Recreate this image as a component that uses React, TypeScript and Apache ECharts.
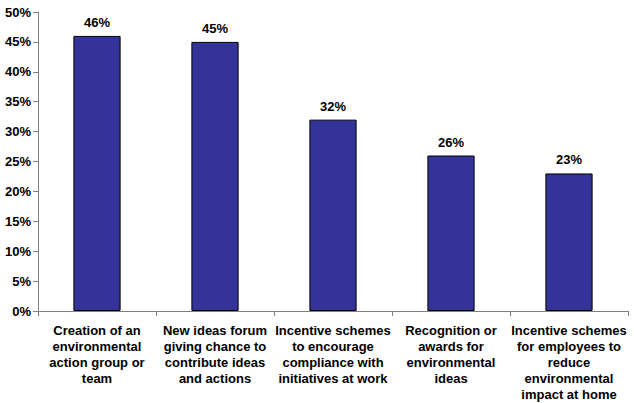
import React, { useEffect, useRef } from "react";
import * as echarts from "echarts";

const categories = [
  "Creation of an\nenvironmental\naction group or\nteam",
  "New ideas forum\ngiving chance to\ncontribute ideas\nand actions",
  "Incentive schemes\nto encourage\ncompliance with\ninitiatives at work",
  "Recognition or\nawards for\nenvironmental\nideas",
  "Incentive schemes\nfor employees to\nreduce\nenvironmental\nimpact at home",
];
const values = [46, 45, 32, 26, 23];
const yTicks = { min: 0, max: 50, interval: 5 };

export default function App() {
  const ref = useRef<HTMLDivElement>(null);
  useEffect(() => {
    if (!ref.current) return;
    const chart = echarts.init(ref.current, undefined, { renderer: "svg" });
    const font = "'Liberation Sans', Arial, sans-serif";
    chart.setOption({
      animation: false,
      backgroundColor: "#ffffff",
      grid: { left: 38, right: 6, top: 12, bottom: 92, containLabel: false },
      xAxis: {
        type: "category",
        data: categories,
        axisLine: { show: true, lineStyle: { color: "#7f7f7f", width: 1 } },
        axisTick: { show: true, length: 5, lineStyle: { color: "#7f7f7f" } },
        axisLabel: {
          interval: 0,
          margin: 11,
          color: "#000",
          fontFamily: font,
          fontWeight: "bold",
          fontSize: 13,
          lineHeight: 16,
        },
      },
      yAxis: {
        type: "value",
        min: yTicks.min,
        max: yTicks.max,
        interval: yTicks.interval,
        splitLine: { show: false },
        axisLine: { show: true, lineStyle: { color: "#7f7f7f", width: 1 } },
        axisTick: { show: true, length: 5, lineStyle: { color: "#7f7f7f" } },
        axisLabel: {
          margin: 7,
          color: "#000",
          fontFamily: font,
          fontWeight: "bold",
          fontSize: 13,
          formatter: (v: number) => v + "%",
        },
      },
      series: [
        {
          type: "bar",
          data: values,
          barWidth: "40%",
          itemStyle: { color: "#333399", borderColor: "#000", borderWidth: 1 },
          label: {
            show: true,
            position: "top",
            distance: 7,
            color: "#000",
            fontFamily: font,
            fontWeight: "bold",
            fontSize: 13,
            formatter: (p: any) => p.value + "%",
          },
        },
      ],
    });
    return () => chart.dispose();
  }, []);
  return <div ref={ref} style={{ width: 634, height: 403, position: "absolute", left: 0, top: 0 }} />;
}
